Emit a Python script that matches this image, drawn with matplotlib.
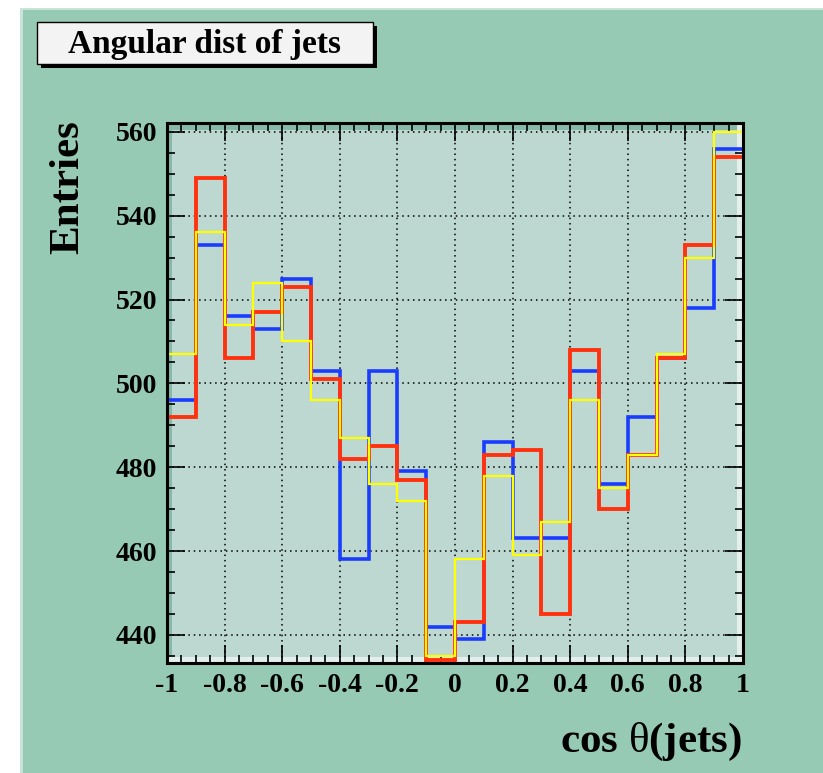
#!/usr/bin/env python3

# Angular distribution of jets: three cos(theta) histograms drawn
# as step outlines on a ROOT-style canvas

import numpy as np
import matplotlib
matplotlib.use("Agg")
from matplotlib import pyplot as plt
from matplotlib.patches import Rectangle
from matplotlib.ticker import FixedLocator, MultipleLocator


# bin edges of the histograms (20 bins over [-1, 1])
bin_edges = np.linspace(-1.0, 1.0, 21)

# entries per bin for each sample
blue_counts = [496, 533, 516, 513, 525, 503, 458, 503, 479, 442,
               439, 486, 463, 463, 503, 476, 492, 506, 518, 556]
red_counts = [492, 549, 506, 517, 523, 501, 482, 485, 477, 434,
              443, 483, 484, 445, 508, 470, 483, 506, 533, 554]
yellow_counts = [507, 536, 514, 524, 510, 496, 487, 476, 472, 435,
                 458, 478, 459, 467, 496, 475, 483, 507, 530, 560]

x_ticks = [-1, -0.8, -0.6, -0.4, -0.2, 0, 0.2, 0.4, 0.6, 0.8, 1]
x_tick_labels = ["-1", "-0.8", "-0.6", "-0.4", "-0.2", "0",
                 "0.2", "0.4", "0.6", "0.8", "1"]
y_ticks = [440, 460, 480, 500, 520, 540, 560]

title_text = "Angular dist of jets"
x_label = r"cos $\mathrm{\theta}$(jets)"
y_label = "Entries"

# canvas colours
pad_green = "#96cab4"
frame_fill = "#bdd8d0"

W, H = 823, 773
plt.rcParams['font.family'] = ['Liberation Serif', 'DejaVu Serif']
plt.rcParams['font.weight'] = 'bold'
plt.rcParams['mathtext.fontset'] = 'custom'
plt.rcParams['mathtext.rm'] = 'Liberation Serif:weight=normal'

fig = plt.figure(figsize=(W / 100, H / 100), dpi=100, facecolor="white")


# helper to place things on the canvas in pixel units (origin top-left)
def _fig_rect(x0, y0, x1, y1, **kw):
	r = Rectangle((x0 / W, 1 - y1 / H), (x1 - x0) / W, (y1 - y0) / H,
				  transform=fig.transFigure, **kw)
	fig.patches.append(r)
	return r


# green pad with a light bevel on the left and top
_fig_rect(20, 8, W, H, facecolor=pad_green, edgecolor="none", zorder=-5)
_fig_rect(20, 8, 23, H, facecolor="#c8e3d7", edgecolor="none", zorder=-4)
_fig_rect(20, 8, W, 10, facecolor="#c8e3d7", edgecolor="none", zorder=-4)

# frame position in pixels
fx0, fy0, fx1, fy1 = 167, 123, 743, 663
ax = fig.add_axes([fx0 / W, 1 - fy1 / H, (fx1 - fx0) / W, (fy1 - fy0) / H])
ax.set_zorder(1)
ax.set_facecolor(frame_fill)
ax.set_xlim(-1, 1)
ax.set_ylim(433.3, 562.1)

# frame bevel: dark on left/top, light on right/bottom
fw, fh = fx1 - fx0, fy1 - fy0
ax.add_patch(Rectangle((0, 0), 5 / fw, 1, transform=ax.transAxes,
					   facecolor="#86b9a8", edgecolor="none", zorder=0.5))
ax.add_patch(Rectangle((0, 1 - 7 / fh), 1, 7 / fh, transform=ax.transAxes,
					   facecolor="#86b9a8", edgecolor="none", zorder=0.5))
ax.add_patch(Rectangle((1 - 6 / fw, 0), 6 / fw, 1, transform=ax.transAxes,
					   facecolor="#e4eeeb", edgecolor="none", zorder=0.5))
ax.add_patch(Rectangle((0, 0), 1, 6 / fh, transform=ax.transAxes,
					   facecolor="#e4eeeb", edgecolor="none", zorder=0.5))

# the three histograms
ax.stairs(blue_counts, bin_edges, baseline=None, color="#1a3cff", lw=2.6, zorder=3)
ax.stairs(red_counts, bin_edges, baseline=None, color="#ff3210", lw=2.8, zorder=3)
ax.stairs(yellow_counts, bin_edges, baseline=None, color="#ffff00", lw=1.6, zorder=3)

# ticks and grid
ax.xaxis.set_major_locator(FixedLocator(x_ticks))
ax.set_xticklabels(x_tick_labels)
ax.xaxis.set_minor_locator(MultipleLocator(0.05))
ax.yaxis.set_major_locator(FixedLocator(y_ticks))
ax.yaxis.set_minor_locator(MultipleLocator(5))
ax.tick_params(which="both", direction="in", top=True, right=True,
			   color="black", width=1.2)
ax.tick_params(which="major", length=13, labelsize=20, pad=7)
ax.tick_params(which="minor", length=6)
ax.grid(True, which="major", color="black", linestyle=(0, (1, 2.5)), lw=1.1)
ax.set_axisbelow(False)
for lab in ax.get_xticklabels() + ax.get_yticklabels():
	lab.set_fontweight("bold")
for sp in ax.spines.values():
	sp.set_linewidth(2.2)
	sp.set_zorder(4)

# axis titles
fig.text(742 / W, 1 - 752 / H, x_label, ha="right", va="baseline",
		 fontsize=31, fontweight="bold")
fig.text(68 / W, 1 - 120 / H, y_label, ha="center", va="top",
		 rotation=90, fontsize=31, fontweight="bold")

# title box with drop shadow
_fig_rect(41, 26, 377, 68, facecolor="black", edgecolor="none", zorder=1)
_fig_rect(37, 22, 373, 64, facecolor="#f3f3f3", edgecolor="black", lw=1.0, zorder=2)
fig.text(204 / W, 1 - 53 / H, title_text, ha="center", va="baseline",
		 fontsize=24, fontweight="bold", zorder=3)

plt.savefig("out.png", dpi=100, facecolor="white")
